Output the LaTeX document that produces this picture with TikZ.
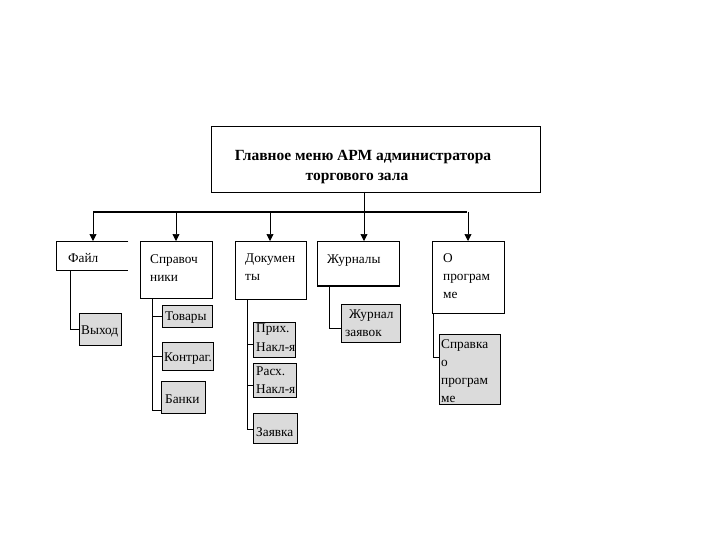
\documentclass[tikz,border=0pt]{standalone}
\usepackage{fontspec}
\setmainfont{Liberation Serif}
\usetikzlibrary{arrows.meta}
\tikzset{
  box/.style={draw, line width=0.8pt, inner sep=0pt, anchor=north west},
  sub/.style={draw, line width=1.1pt, fill=black!14, inner sep=0pt, anchor=north west},
  txt/.style={inner sep=0pt, anchor=north west, align=left, font=\fontsize{13.3}{18}\selectfont,
    execute at begin node={\rule{0pt}{10pt}}},
  ttl/.style={inner sep=0pt, anchor=base, font=\fontsize{15.5}{18}\selectfont\bfseries},
  conn/.style={line width=0.7pt},
  arr/.style={line width=0.7pt, -{Triangle[length=7pt,width=7pt]}},
  bus/.style={line width=2.4pt}
}
\begin{document}
\begin{tikzpicture}[x=1pt,y=-1pt]
\useasboundingbox (0,0) rectangle (720,540);
% main box
\node[box, minimum width=329, minimum height=66] (main) at (211,126) {};
\node[ttl] (t1) at (363,161) {Главное меню АРМ администратора};
\node[ttl] (t2) at (357,181) {торгового зала};
% level 1 boxes
\node[inner sep=0pt, anchor=north west, minimum width=72, minimum height=29] (fajl) at (56,241) {};
\draw[line width=0.8pt] (fajl.north east) -- (fajl.north west) -- (fajl.south west) -- (fajl.south east);
\node[txt] (fajlT) at (68,252) {Файл};
\node[box, minimum width=72, minimum height=57] (spr) at (140,241) {};
\node[txt] (sprT) at (150,254) {Справоч\\ники};
\node[box, minimum width=71, minimum height=58] (doc) at (235,241) {};
\node[txt] (docT) at (245,254) {Докумен\\ты};
\node[box, minimum width=82, minimum height=44] (jur) at (317,241) {};
\draw[line width=1.6pt] (jur.south west) -- (jur.south east);
\node[txt] (jurT) at (327,253) {Журналы};
\node[box, minimum width=72, minimum height=72] (opr) at (432,241) {};
\node[txt] (oprT) at (443,253) {О\\програм\\ме};
% bus
\coordinate (mdrop) at (364,192);
\coordinate (busL) at (93,212);
\coordinate (busR) at (467,212);
\coordinate (b1) at (93,212);
\coordinate (b2) at (176,212);
\coordinate (b3) at (270,212);
\coordinate (b4) at (364,212);
\coordinate (b5) at (468,212);
\draw[conn] (mdrop) -- (b4);
\draw[bus] (busL) -- (busR);
\draw[arr] (b1) -- (b1 |- fajl.north);
\draw[arr] (b2) -- (b2 |- spr.north);
\draw[arr] (b3) -- (b3 |- doc.north);
\draw[arr] (b4) -- (b4 |- jur.north);
\draw[arr] (b5) -- (b5 |- opr.north);
% sub boxes
\node[sub, minimum width=42, minimum height=32] (vyh) at (79,313) {};
\node[txt] (vyhT) at (81,324) {Выход};
\node[sub, minimum width=50, minimum height=22] (tov) at (162,305) {};
\node[txt] (tovT) at (165,310) {Товары};
\node[sub, minimum width=51, minimum height=28] (kon) at (162,342) {};
\node[txt] (konT) at (164,351) {Контраг.};
\node[sub, minimum width=44, minimum height=32] (ban) at (161,381) {};
\node[txt] (banT) at (165,393) {Банки};
\node[sub, minimum width=42, minimum height=35] (prih) at (253,322) {};
\node[txt, font=\fontsize{13.3}{19}\selectfont] (prihT) at (256,324) {Прих.\\Накл-я};
\node[sub, minimum width=43, minimum height=34] (rash) at (253,363) {};
\node[txt] (rashT) at (256,367) {Расх.\\Накл-я};
\node[sub, minimum width=44, minimum height=30] (zay) at (253,413) {};
\node[txt] (zayT) at (256,426) {Заявка};
\node[sub, minimum width=59, minimum height=38] (jz) at (341,304) {};
\node[txt] (jzT) at (345,310) {\hspace*{4pt}Журнал\\заявок};
\node[sub, minimum width=61, minimum height=70] (sp) at (439,334) {};
\node[txt] (spT) at (441,339) {Справка\\о\\програм\\ме};
% child connectors
\coordinate (fv) at (70,270);
\draw[conn] (fv) |- (vyh.west);
\coordinate (sv) at (152,298);
\draw[conn] (sv) |- (tov.west);
\draw[conn] (sv) |- (kon.west);
\draw[conn] (sv) |- ([yshift=-13]ban.west);
\coordinate (dv) at (247,299);
\draw[conn] (dv) |- ([yshift=-4]prih.west);
\draw[conn] (dv) |- ([yshift=-5]rash.west);
\draw[conn] (dv) |- ([yshift=-1]zay.west);
\coordinate (jv) at (329,285);
\draw[conn] (jv) |- ([yshift=-5]jz.west);
\coordinate (ov) at (433,313);
\draw[conn] (ov) |- ([yshift=12]sp.west);
\end{tikzpicture}
\end{document}
